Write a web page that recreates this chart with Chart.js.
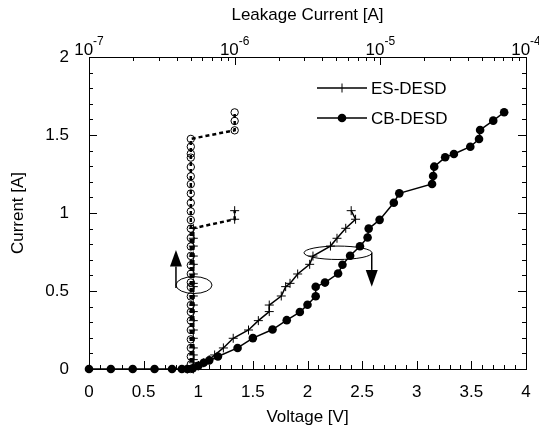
<!DOCTYPE html>
<html>
<head>
<meta charset="utf-8">
<script src="https://cdn.jsdelivr.net/npm/chart.js@4.4.0/dist/chart.umd.min.js"></script>
<style>
  html, body { margin: 0; padding: 0; background: #fff; }
</style>
</head>
<body>
<canvas id="chart" width="539" height="428"></canvas>
<script>
// Données
const esVoltage = [0.9, 0.95, 1.0, 1.05, 1.1, 1.15, 1.23, 1.32, 1.46, 1.55, 1.65, 1.65, 1.76, 1.80, 1.84, 1.91, 2.02, 2.05, 2.21, 2.27, 2.35, 2.44, 2.40];
const esCurrent = [0, 0.005, 0.02, 0.04, 0.06, 0.09, 0.135, 0.197, 0.25, 0.31, 0.368, 0.41, 0.468, 0.528, 0.549, 0.609, 0.671, 0.724, 0.788, 0.838, 0.902, 0.96, 1.015];
const esLeakage = [5.2e-7, 5.2e-7, 5.2e-7, 5.2e-7, 5.2e-7, 5.2e-7, 5.2e-7, 5.2e-7, 5.2e-7, 5.2e-7, 5.2e-7, 5.2e-7, 5.2e-7, 5.2e-7, 5.2e-7, 5.2e-7, 5.2e-7, 5.2e-7, 5.2e-7, 5.2e-7, 5.2e-7, 1.0e-6, 1.0e-6];

const cbVoltage = [0, 0.2, 0.4, 0.6, 0.76, 0.85, 0.9, 0.95, 1.0, 1.05, 1.1, 1.18, 1.36, 1.5, 1.68, 1.81, 1.93, 2.0, 2.075, 2.075, 2.16, 2.28, 2.32, 2.39, 2.48, 2.55, 2.56, 2.66, 2.79, 2.84, 3.14, 3.15, 3.16, 3.26, 3.34, 3.49, 3.57, 3.58, 3.70, 3.80];
const cbCurrent = [0, 0, 0, 0, 0, 0, 0, 0.005, 0.02, 0.04, 0.055, 0.08, 0.135, 0.198, 0.253, 0.313, 0.365, 0.412, 0.466, 0.527, 0.554, 0.612, 0.668, 0.726, 0.787, 0.843, 0.9, 0.956, 1.066, 1.126, 1.186, 1.237, 1.297, 1.357, 1.378, 1.425, 1.474, 1.532, 1.592, 1.646];

const cbLeakCurrent = [0, 0.03, 0.08, 0.135, 0.19, 0.25, 0.31, 0.365, 0.41, 0.465, 0.525, 0.555, 0.61, 0.665, 0.725, 0.785, 0.84, 0.9, 0.955, 1.01, 1.065, 1.125, 1.185, 1.235, 1.295, 1.355, 1.38, 1.425, 1.475, 1.53, 1.59, 1.645];
const cbLeakage = [5e-7, 5e-7, 5e-7, 5e-7, 5e-7, 5e-7, 5e-7, 5e-7, 5e-7, 5e-7, 5e-7, 5e-7, 5e-7, 5e-7, 5e-7, 5e-7, 5e-7, 5e-7, 5e-7, 5e-7, 5e-7, 5e-7, 5e-7, 5e-7, 5e-7, 5e-7, 5e-7, 5e-7, 5e-7, 1e-6, 1e-6, 1e-6];

const voltageTicks = [0, 0.5, 1, 1.5, 2, 2.5, 3, 3.5, 4];
const currentTicks = [0, 0.5, 1, 1.5, 2];
const leakageTicks = [1e-7, 1e-6, 1e-5, 1e-4];
const leakageExponents = ['-7', '-6', '-5', '-4'];

const FONT = "'Liberation Sans', Arial, sans-serif";

function xy(xs, ys) {
    return xs.map((x, i) => ({ x: x, y: ys[i] }));
}

// Ticks vers l'intérieur + cadre
const framePlugin = {
    id: 'frame',
    afterDraw(chart) {
        const { ctx, chartArea: a, scales } = chart;
        ctx.save();
        ctx.strokeStyle = '#000';
        ctx.lineWidth = 1;
        ctx.strokeRect(Math.round(a.left) + 0.5, Math.round(a.top) + 0.5, Math.round(a.width), Math.round(a.height));
        ctx.beginPath();
        // axe des tensions (bas) : pas de 0.1
        for (let i = 0; i <= 40; i++) {
            const x = Math.round(scales.x.getPixelForValue(i / 10)) + 0.5;
            const len = i % 5 === 0 ? 8 : 4;
            ctx.moveTo(x, a.bottom); ctx.lineTo(x, a.bottom - len);
        }
        // axe des courants (gauche et droite) : pas de 0.1
        for (let i = 0; i <= 20; i++) {
            const y = Math.round(scales.y.getPixelForValue(i / 10)) + 0.5;
            const len = i % 5 === 0 ? 8 : 4;
            ctx.moveTo(a.left, y); ctx.lineTo(a.left + len, y);
            ctx.moveTo(a.right, y); ctx.lineTo(a.right - len, y);
        }
        // axe log (haut)
        for (let d = -7; d < -4; d++) {
            for (let m = 1; m <= 9; m++) {
                const x = Math.round(scales.top.getPixelForValue(m * Math.pow(10, d))) + 0.5;
                const len = m === 1 ? 8 : 4;
                ctx.moveTo(x, a.top); ctx.lineTo(x, a.top + len);
            }
        }
        ctx.stroke();

        // étiquettes 10^n
        ctx.fillStyle = '#000';
        ctx.textBaseline = 'alphabetic';
        leakageTicks.forEach((v, i) => {
            const x = scales.top.getPixelForValue(v);
            ctx.font = '17px ' + FONT;
            const wb = ctx.measureText('10').width;
            ctx.font = '12px ' + FONT;
            const we = ctx.measureText(leakageExponents[i]).width;
            const x0 = x - (wb + we) / 2;
            ctx.font = '17px ' + FONT;
            ctx.fillText('10', x0, a.top - 2);
            ctx.font = '12px ' + FONT;
            ctx.fillText(leakageExponents[i], x0 + wb, a.top - 12);
        });
        ctx.restore();
    }
};

// Ellipses et flèches
const ellipses = [
    { v: 0.961, i: 0.538, rv: 0.165, ri: 0.054 },
    { v: 2.279, i: 0.745, rv: 0.311, ri: 0.043 }
];
const arrows = [
    { v: 0.796, from: 0.519, base: 0.657, tip: 0.763 },
    { v: 2.588, from: 0.745, base: 0.635, tip: 0.527 }
];

const annotationPlugin = {
    id: 'annotations',
    afterDatasetsDraw(chart) {
        const { ctx, scales } = chart;
        const sx = scales.x, sy = scales.y;
        ctx.save();
        ctx.strokeStyle = '#000';
        ctx.fillStyle = '#000';
        ctx.lineWidth = 1;
        ellipses.forEach(e => {
            const cx = sx.getPixelForValue(e.v), cy = sy.getPixelForValue(e.i);
            const rx = sx.getPixelForValue(e.v + e.rv) - cx;
            const ry = cy - sy.getPixelForValue(e.i + e.ri);
            ctx.beginPath();
            ctx.ellipse(cx, cy, rx, ry, 0, 0, Math.PI * 2);
            ctx.stroke();
        });
        ctx.lineWidth = 1.5;
        arrows.forEach(ar => {
            const x = sx.getPixelForValue(ar.v);
            const y0 = sy.getPixelForValue(ar.from);
            const yb = sy.getPixelForValue(ar.base);
            const yt = sy.getPixelForValue(ar.tip);
            ctx.beginPath();
            ctx.moveTo(x, y0); ctx.lineTo(x, yb);
            ctx.stroke();
            ctx.beginPath();
            ctx.moveTo(x - 6, yb); ctx.lineTo(x + 6, yb); ctx.lineTo(x, yt);
            ctx.closePath();
            ctx.fill();
        });
        ctx.restore();
    }
};

// Légende maison
const legendItems = [
    { label: 'ES-DESD', style: 'cross', y: 88 },
    { label: 'CB-DESD', style: 'circle', y: 118 }
];

const legendPlugin = {
    id: 'customLegend',
    afterDraw(chart) {
        const { ctx } = chart;
        ctx.save();
        ctx.strokeStyle = '#000';
        ctx.fillStyle = '#000';
        legendItems.forEach(item => {
            ctx.lineWidth = 1.5;
            ctx.beginPath();
            ctx.moveTo(317, item.y); ctx.lineTo(367, item.y);
            ctx.stroke();
            if (item.style === 'cross') {
                ctx.lineWidth = 1;
                ctx.beginPath();
                ctx.moveTo(342, item.y - 4.5); ctx.lineTo(342, item.y + 4.5);
                ctx.stroke();
            } else {
                ctx.beginPath();
                ctx.arc(342, item.y, 4.3, 0, Math.PI * 2);
                ctx.fill();
            }
            ctx.font = '17px ' + FONT;
            ctx.textBaseline = 'middle';
            ctx.textAlign = 'left';
            ctx.fillText(item.label, 371, item.y + 1);
        });
        ctx.restore();
    }
};

const plainLabel = v => String(v);

const ctx = document.getElementById('chart').getContext('2d');
new Chart(ctx, {
    type: 'scatter',
    data: {
        datasets: [
            {
                label: 'ES-DESD',
                data: xy(esVoltage, esCurrent),
                showLine: true,
                borderColor: '#000',
                borderWidth: 1.5,
                pointStyle: 'cross',
                pointRadius: 4.5,
                pointBorderWidth: 1,
                pointBorderColor: '#000',
                xAxisID: 'x',
                yAxisID: 'y',
                clip: false
            },
            {
                label: 'CB-DESD',
                data: xy(cbVoltage, cbCurrent),
                showLine: true,
                borderColor: '#000',
                borderWidth: 1.5,
                pointStyle: 'circle',
                pointRadius: 4.3,
                pointBorderWidth: 0,
                pointBackgroundColor: '#000',
                xAxisID: 'x',
                yAxisID: 'y',
                clip: false
            },
            {
                label: 'ES leakage',
                data: xy(esLeakage, esCurrent),
                showLine: true,
                borderColor: '#000',
                borderWidth: 2.5,
                borderDash: [4, 3],
                pointStyle: 'cross',
                pointRadius: 4.5,
                pointBorderWidth: 1,
                pointBorderColor: '#000',
                xAxisID: 'top',
                yAxisID: 'y',
                clip: false
            },
            {
                label: 'CB leakage',
                data: xy(cbLeakage, cbLeakCurrent),
                showLine: true,
                borderColor: '#000',
                borderWidth: 2.5,
                borderDash: [4, 3],
                pointStyle: 'circle',
                pointRadius: 3.7,
                pointBorderWidth: 1,
                pointBorderColor: '#000',
                pointBackgroundColor: 'rgba(0,0,0,0)',
                xAxisID: 'top',
                yAxisID: 'y',
                clip: false
            }
        ]
    },
    options: {
        responsive: false,
        animation: false,
        devicePixelRatio: 1,
        layout: { padding: { left: 0, right: 13, top: 0, bottom: 0 } },
        plugins: {
            legend: { display: false },
            tooltip: { enabled: false }
        },
        scales: {
            x: {
                type: 'linear',
                position: 'bottom',
                min: 0,
                max: 4,
                afterBuildTicks: s => { s.ticks = voltageTicks.map(v => ({ value: v })); },
                ticks: { color: '#000', font: { family: FONT, size: 17 }, padding: 5, maxRotation: 0, callback: plainLabel },
                grid: { display: false },
                border: { display: false },
                title: { display: true, text: 'Voltage [V]', color: '#000', font: { family: FONT, size: 17 }, padding: { top: 0, bottom: 0 } },
                afterFit: s => { s.height = 59; s.paddingLeft = 0; s.paddingRight = 0; }
            },
            top: {
                type: 'logarithmic',
                position: 'top',
                min: 1e-7,
                max: 1e-4,
                ticks: { display: false },
                grid: { display: false },
                border: { display: false },
                title: { display: true, text: 'Leakage Current [A]', color: '#000', font: { family: FONT, size: 17 }, padding: { top: 5, bottom: 0 } },
                afterFit: s => { s.height = 57; s.paddingLeft = 0; s.paddingRight = 0; }
            },
            y: {
                type: 'linear',
                position: 'left',
                min: 0,
                max: 2,
                afterBuildTicks: s => { s.ticks = currentTicks.map(v => ({ value: v })); },
                ticks: { color: '#000', font: { family: FONT, size: 17 }, padding: 12, callback: plainLabel },
                grid: { display: false },
                border: { display: false },
                title: { display: true, text: 'Current [A]', color: '#000', font: { family: FONT, size: 17 }, padding: { top: 8, bottom: 0 } },
                afterFit: s => { s.width = 89; }
            }
        }
    },
    plugins: [framePlugin, annotationPlugin, legendPlugin]
});
</script>
</body>
</html>
